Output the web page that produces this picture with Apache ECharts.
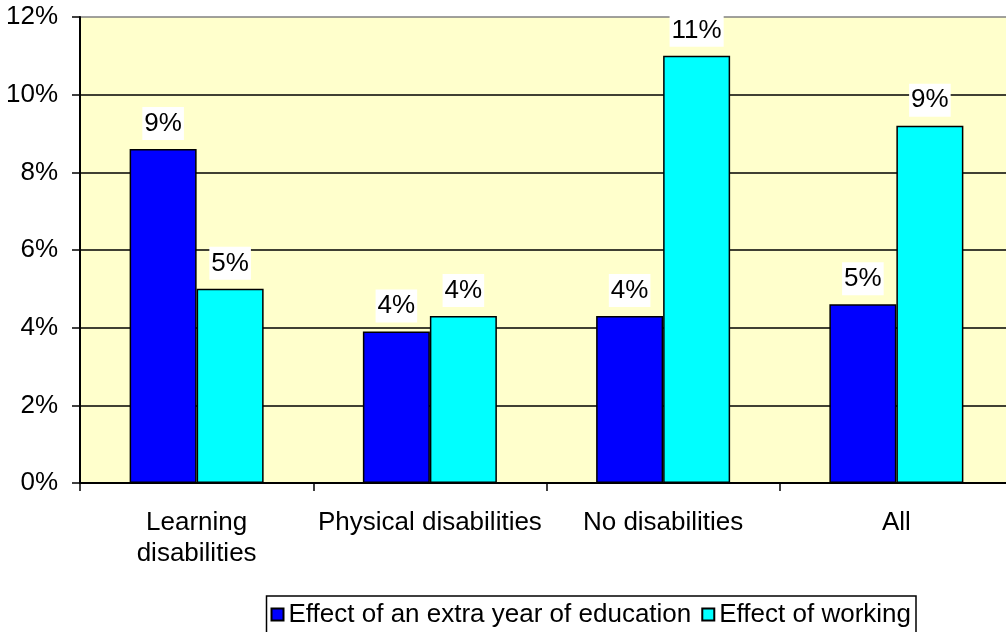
<!DOCTYPE html>
<html>
<head>
<meta charset="utf-8">
<title>Effect of education and working, by disability</title>
<script src="https://cdn.jsdelivr.net/npm/echarts@6/dist/echarts.min.js"></script>
<style>
  html, body { margin: 0; padding: 0; background: #ffffff; overflow: hidden; }
  /* The plot runs a few pixels past the right edge of the window */
  #chart { width: 1013px; height: 632px; }
</style>
</head>
<body>
<div id="chart"></div>
<script>
// Category tick labels (line break as printed under the axis)
const categories = ['Learning\ndisabilities', 'Physical disabilities', 'No disabilities', 'All'];

// Series names
const seriesNames = ['Effect of an extra year of education', 'Effect of working'];

// Values in percent
const educationEffect = [8.6, 3.9, 4.3, 4.6];
const workingEffect = [5.0, 4.3, 11.0, 9.2];

// Value axis ticks (percent)
const yMin = 0;
const yMax = 12;
const yStep = 2;

const FONT = '"Liberation Sans", Arial, sans-serif';
const FS = 26;

const chart = echarts.init(document.getElementById('chart'), null, { renderer: 'canvas' });

const valueLabel = {
  show: true,
  position: 'top',
  distance: 9,
  formatter: p => Math.round(p.value) + '%',
  fontFamily: FONT,
  fontSize: FS,
  color: '#000',
  backgroundColor: '#ffffff',
  padding: [2, 2, 2, 2],
  lineHeight: 29
};

chart.setOption({
  backgroundColor: '#ffffff',
  animation: false,
  textStyle: { fontFamily: FONT },
  grid: {
    left: 80,
    right: 0,
    top: 17,
    bottom: 149,
    show: true,
    backgroundColor: '#FFFFCC',
    borderWidth: 0,
    containLabel: false
  },
  legend: {
    data: seriesNames,
    right: 97,
    top: 596,
    orient: 'horizontal',
    padding: [4, 5, 20, 4],
    borderColor: '#000',
    borderWidth: 1.5,
    backgroundColor: '#ffffff',
    itemWidth: 12,
    itemHeight: 12,
    itemGap: 10,
    icon: 'rect',
    textStyle: { fontFamily: FONT, fontSize: FS, color: '#000', lineHeight: 29 }
  },
  xAxis: {
    type: 'category',
    data: categories,
    axisLine: { show: true, lineStyle: { color: '#000', width: 2 } },
    axisTick: { show: true, alignWithLabel: false, length: 8, lineStyle: { color: '#000', width: 1.5 } },
    axisLabel: {
      fontFamily: FONT,
      fontSize: FS,
      color: '#000',
      margin: 24,
      lineHeight: 31,
      interval: 0
    },
    splitLine: { show: false }
  },
  yAxis: {
    type: 'value',
    min: yMin,
    max: yMax,
    interval: yStep,
    axisLine: { show: true, lineStyle: { color: '#000', width: 2 } },
    axisTick: { show: true, length: 8, lineStyle: { color: '#000', width: 1.5 } },
    axisLabel: {
      formatter: '{value}%',
      fontFamily: FONT,
      fontSize: FS,
      color: '#000',
      margin: 22
    },
    splitLine: {
      show: true,
      lineStyle: {
        color: ['#000', '#000', '#000', '#000', '#000', '#000', '#808080'],
        width: 1.5
      }
    }
  },
  series: [
    {
      name: seriesNames[0],
      type: 'bar',
      data: educationEffect,
      barWidth: 67,
      barGap: '0%',
      itemStyle: { color: '#0000FF', borderColor: '#000', borderWidth: 1.5 },
      label: valueLabel
    },
    {
      name: seriesNames[1],
      type: 'bar',
      data: workingEffect,
      barWidth: 67,
      barGap: '0%',
      itemStyle: { color: '#00FFFF', borderColor: '#000', borderWidth: 1.5 },
      label: valueLabel
    }
  ]
});
</script>
</body>
</html>
